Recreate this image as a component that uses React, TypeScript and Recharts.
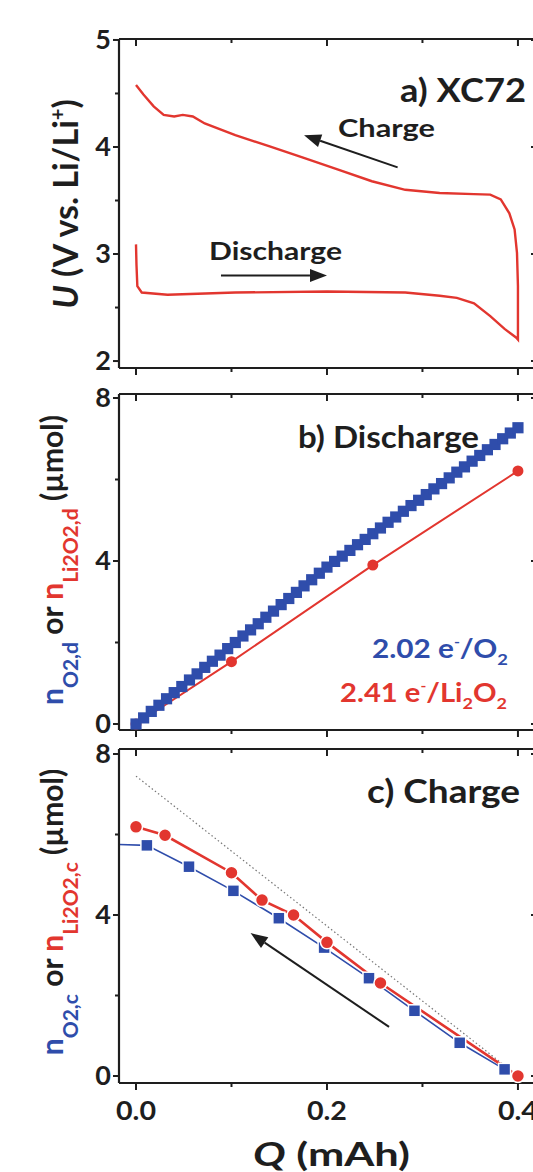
import React from 'react';
import { LineChart, Line, XAxis, YAxis, ReferenceLine } from 'recharts';

// ---------- data ----------
const qTicks = [0, 0.1, 0.2, 0.3, 0.4];
const qMajor = [0, 0.2, 0.4];
const qLabels = ['0.0', '', '0.2', '', '0.4'];

const uTicks = [2, 2.5, 3, 3.5, 4, 4.5, 5];
const uMajor = [2, 3, 4, 5];
const nTicks = [0, 2, 4, 6, 8];
const nMajor = [0, 4, 8];

// panel a: voltage profile (measurement order)
const dischargeQ = [0, 0.0005, 0.0014, 0.006, 0.033, 0.104, 0.2, 0.282, 0.318, 0.336, 0.354, 0.371, 0.386, 0.398, 0.4];
const dischargeU = [3.09, 2.9, 2.7, 2.64, 2.62, 2.64, 2.65, 2.64, 2.61, 2.59, 2.54, 2.42, 2.3, 2.22, 2.2];
const chargeQ = [0.4, 0.4, 0.399, 0.3965, 0.391, 0.382, 0.371, 0.354, 0.318, 0.282, 0.247, 0.211, 0.175, 0.14, 0.104, 0.072, 0.0595, 0.049, 0.04, 0.029, 0.0185, 0.0078, 0];
const chargeU = [2.2, 2.7, 3.01, 3.23, 3.38, 3.51, 3.555, 3.56, 3.57, 3.6, 3.68, 3.79, 3.9, 4.005, 4.11, 4.22, 4.285, 4.3, 4.285, 4.3, 4.38, 4.49, 4.58];

// panel b: discharge
const o2dQ = [0, 0.008, 0.016, 0.024, 0.032, 0.04, 0.048, 0.056, 0.064, 0.072, 0.08, 0.088, 0.096, 0.104, 0.112, 0.12, 0.128, 0.136, 0.144, 0.152, 0.16, 0.168, 0.176, 0.184, 0.192, 0.2, 0.208, 0.216, 0.224, 0.232, 0.24, 0.248, 0.256, 0.264, 0.272, 0.28, 0.288, 0.296, 0.304, 0.312, 0.32, 0.328, 0.336, 0.344, 0.352, 0.36, 0.368, 0.376, 0.384, 0.392, 0.4];
const o2dN = [0, 0.15, 0.31, 0.46, 0.62, 0.77, 0.92, 1.08, 1.23, 1.39, 1.54, 1.69, 1.85, 2.0, 2.16, 2.31, 2.46, 2.62, 2.77, 2.93, 3.08, 3.23, 3.39, 3.54, 3.7, 3.85, 3.99, 4.12, 4.26, 4.4, 4.53, 4.67, 4.81, 4.95, 5.08, 5.22, 5.36, 5.49, 5.63, 5.77, 5.9, 6.04, 6.18, 6.31, 6.45, 6.59, 6.73, 6.86, 7.0, 7.14, 7.27];
const li2o2dQ = [0, 0.1, 0.248, 0.4];
const li2o2dN = [0, 1.53, 3.9, 6.21];

// panel c: charge
const o2cQ = [-0.03, 0.0114, 0.0555, 0.102, 0.1496, 0.197, 0.244, 0.2916, 0.339, 0.386];
const o2cN = [5.76, 5.73, 5.2, 4.6, 3.92, 3.19, 2.43, 1.62, 0.825, 0.165];
const li2o2cQ = [0, 0.0304, 0.1, 0.132, 0.165, 0.2, 0.256, 0.4];
const li2o2cN = [6.19, 5.98, 5.05, 4.37, 4.0, 3.32, 2.31, 0];
const theoryQ = [0, 0.4];
const theoryN = [7.45, 0];

const zip = (qs: number[], vs: number[]) => qs.map((q, i) => ({ q, v: vs[i] }));
const profile = [...zip(dischargeQ, dischargeU), ...zip(chargeQ, chargeU)];

// ---------- style ----------
const FONT = 'Lato, "Open Sans", sans-serif';
const RED = '#e2362f';
const BLUE = '#2f4dab';
const INK = '#1e1e1e';
const W = 545;
const H = 1172;
const qDomain: [number, number] = [-0.0178, 0.421];

const bottomTick = (labels: boolean) => (p: any) => {
  const v = p.payload.value;
  const i = qTicks.indexOf(v);
  const major = qMajor.includes(v);
  return (
    <g key={`bt${v}`}>
      <line x1={p.x} x2={p.x} y1={p.y} y2={p.y + (major ? 7 : 4)} stroke={INK} strokeWidth={2} />
      {labels && major ? (
        <text x={p.x - 20} y={p.y + 37} textLength={40} lengthAdjust="spacingAndGlyphs" fontFamily={FONT} fontWeight={700} fontSize={26} fill={INK}>
          {qLabels[i]}
        </text>
      ) : null}
    </g>
  );
};
const topTick = (p: any) => {
  const v = p.payload.value;
  const major = qMajor.includes(v);
  return <line key={`tt${v}`} x1={p.x} x2={p.x} y1={p.y} y2={p.y + (major ? 7 : 4)} stroke={INK} strokeWidth={2} />;
};
const leftTick = (majors: number[]) => (p: any) => {
  const v = p.payload.value;
  const major = majors.includes(v);
  return (
    <g key={`lt${v}`}>
      <line x1={p.x - (major ? 6 : 4)} x2={p.x} y1={p.y} y2={p.y} stroke={INK} strokeWidth={2} />
      {major ? (
        <text x={p.x - 8} y={p.y + 9} textAnchor="end" fontFamily={FONT} fontWeight={700} fontSize={27} fill={INK}>
          {String(v)}
        </text>
      ) : null}
    </g>
  );
};
const rightTick = (majors: number[]) => (p: any) => {
  const v = p.payload.value;
  const major = majors.includes(v);
  return <line key={`rt${v}`} x1={p.x - (major ? 7 : 4)} x2={p.x} y1={p.y} y2={p.y} stroke={INK} strokeWidth={2} />;
};

const circleDot = (r: number, sw: number) => (p: any) =>
  p.cx == null || p.payload.q < 0 ? <g key={`c${p.index}`} /> : (
    <circle key={`c${p.index}`} cx={p.cx} cy={p.cy} r={r} fill={RED} stroke="#fff" strokeWidth={sw} />
  );
const squareDot = (s: number, sw: number) => (p: any) =>
  p.cx == null || p.payload.q < 0 ? <g key={`s${p.index}`} /> : (
    <rect key={`s${p.index}`} x={p.cx - s} y={p.cy - s} width={2 * s} height={2 * s} fill={BLUE} stroke={sw ? '#fff' : 'none'} strokeWidth={sw} />
  );

const arrowShape = (p: any) => {
  const { x1, y1, x2, y2 } = p;
  if (x1 == null) return <g />;
  const a = Math.atan2(y2 - y1, x2 - x1);
  const L = 17;
  const Wd = 6.5;
  const bx = x2 - L * Math.cos(a);
  const by = y2 - L * Math.sin(a);
  const px = -Math.sin(a) * Wd;
  const py = Math.cos(a) * Wd;
  return (
    <g>
      <line x1={x1} y1={y1} x2={bx} y2={by} stroke={INK} strokeWidth={2} />
      <polygon points={`${x2},${y2} ${bx + px},${by + py} ${bx - px},${by - py}`} fill={INK} />
    </g>
  );
};

const axisLine = { stroke: INK, strokeWidth: 2.2 };

function frame(bottom: number, yDomain: [number, number], yTicks: number[], yMajor: number[], labels: boolean) {
  return [
    <XAxis key="xb" xAxisId={0} type="number" dataKey="q" domain={qDomain} allowDataOverflow ticks={qTicks} interval={0}
      height={H - bottom} tickSize={0} tickMargin={0} tickLine={false} axisLine={axisLine} tick={bottomTick(labels)} />,
    <XAxis key="xt" xAxisId="top" orientation="top" mirror type="number" dataKey="q" domain={qDomain} allowDataOverflow ticks={qTicks} interval={0}
      tickSize={0} tickMargin={0} tickLine={false} axisLine={axisLine} tick={topTick} />,
    <YAxis key="yl" yAxisId={0} type="number" domain={yDomain} allowDataOverflow ticks={yTicks} interval={0} width={119}
      tickSize={0} tickMargin={0} tickLine={false} axisLine={axisLine} tick={leftTick(yMajor)} />,
    <YAxis key="yr" yAxisId="right" orientation="right" mirror type="number" domain={yDomain} allowDataOverflow ticks={yTicks} interval={0}
      tickSize={0} tickMargin={0} tickLine={false} axisLine={axisLine} tick={rightTick(yMajor)} />,
  ];
}

const abs: React.CSSProperties = { position: 'absolute', left: 0, top: 0 };
const fit = (len: number) => ({ textLength: len, lengthAdjust: 'spacingAndGlyphs' as const });

export default function App() {
  return (
    <div style={{ position: 'absolute', left: 0, top: 0, width: 533, height: H, overflow: 'hidden', background: '#fff' }}>
      {/* panel a */}
      <div style={abs}>
        <LineChart width={W} height={H} margin={{ top: 39, right: 7, bottom: 0, left: 0 }}>
          {frame(368, [1.935, 5.009], uTicks, uMajor, false)}
          <Line data={profile} dataKey="v" type="linear" stroke={RED} strokeWidth={2.4} dot={false} isAnimationActive={false} />
          <ReferenceLine segment={[{ x: 0.274, y: 3.81 }, { x: 0.176, y: 4.11 }]} shape={arrowShape} />
          <ReferenceLine segment={[{ x: 0.089, y: 2.8 }, { x: 0.2, y: 2.8 }]} shape={arrowShape} />
        </LineChart>
      </div>
      {/* panel b */}
      <div style={abs}>
        <LineChart width={W} height={H} margin={{ top: 394, right: 7, bottom: 0, left: 0 }}>
          {frame(730, [-0.147, 8.098], nTicks, nMajor, false)}
          <Line data={zip(li2o2dQ, li2o2dN)} dataKey="v" type="linear" stroke={RED} strokeWidth={2} dot={circleDot(5.5, 0)} isAnimationActive={false} />
          <Line data={zip(o2dQ, o2dN)} dataKey="v" type="linear" stroke={BLUE} strokeWidth={1} dot={squareDot(5.6, 0)} isAnimationActive={false} />
        </LineChart>
      </div>
      {/* panel c */}
      <div style={abs}>
        <LineChart width={W} height={H} margin={{ top: 749, right: 7, bottom: 0, left: 0 }}>
          {frame(1083, [-0.174, 8.124], nTicks, nMajor, true)}
          <Line data={zip(theoryQ, theoryN)} dataKey="v" type="linear" stroke="#777" strokeWidth={1.2} strokeDasharray="1.5 2.5" dot={false} isAnimationActive={false} />
          <Line data={zip(o2cQ, o2cN)} dataKey="v" type="linear" stroke={BLUE} strokeWidth={1.6} dot={squareDot(6, 1.5)} isAnimationActive={false} />
          <Line data={zip(li2o2cQ, li2o2cN)} dataKey="v" type="linear" stroke={RED} strokeWidth={2.6} dot={circleDot(6.5, 1.5)} isAnimationActive={false} />
          <ReferenceLine segment={[{ x: 0.265, y: 1.22 }, { x: 0.12, y: 3.55 }]} shape={arrowShape} />
        </LineChart>
      </div>
      {/* text overlay */}
      <svg width={533} height={H} style={{ ...abs, pointerEvents: 'none' }} fontFamily={FONT} fontWeight={700} fill={INK}>
        <text x={400} y={102} fontSize={32} {...fit(126)}>a) XC72</text>
        <text x={338} y={137} fontSize={25} {...fit(97)}>Charge</text>
        <text x={209} y={260} fontSize={25} {...fit(133)}>Discharge</text>
        <text x={298} y={448} fontSize={30} {...fit(181)}>b) Discharge</text>
        <text x={372} y={658} fontSize={26} fill={BLUE} {...fit(136)}>
          2.02 e<tspan dy={-11} fontSize={14}>-</tspan><tspan dy={11}>/O</tspan><tspan dy={7} fontSize={16}>2</tspan>
        </text>
        <text x={340} y={702} fontSize={26} fill={RED} {...fit(167)}>
          2.41 e<tspan dy={-11} fontSize={14}>-</tspan><tspan dy={11}>/Li</tspan><tspan dy={7} fontSize={16}>2</tspan><tspan dy={-7}>O</tspan><tspan dy={7} fontSize={16}>2</tspan>
        </text>
        <text x={367} y={803} fontSize={32} {...fit(153)}>c) Charge</text>
        <text x={253} y={1166} fontSize={33} {...fit(157)}>
          <tspan fontStyle="italic">Q</tspan> (mAh)
        </text>
        <text x={78} y={204} transform="rotate(-90 78 204)" textAnchor="middle" fontSize={34}>
          <tspan fontStyle="italic">U</tspan> (V vs. Li/Li<tspan dy={-13} fontSize={20}>+</tspan><tspan dy={13}>)</tspan>
        </text>
        <text x={63} y={560} transform="rotate(-90 63 560)" textAnchor="middle" fontSize={30}>
          <tspan fill={BLUE}>n</tspan><tspan fill={BLUE} fontSize={21} dy={15}>O2,d</tspan><tspan dy={-15}> or </tspan><tspan fill={RED}>n</tspan><tspan fill={RED} fontSize={21} dy={15}>Li2O2,d</tspan><tspan dy={-15}> (µmol)</tspan>
        </text>
        <text x={63} y={912} transform="rotate(-90 63 912)" textAnchor="middle" fontSize={30}>
          <tspan fill={BLUE}>n</tspan><tspan fill={BLUE} fontSize={21} dy={15}>O2,c</tspan><tspan dy={-15}> or </tspan><tspan fill={RED}>n</tspan><tspan fill={RED} fontSize={21} dy={15}>Li2O2,c</tspan><tspan dy={-15}> (µmol)</tspan>
        </text>
      </svg>
    </div>
  );
}
